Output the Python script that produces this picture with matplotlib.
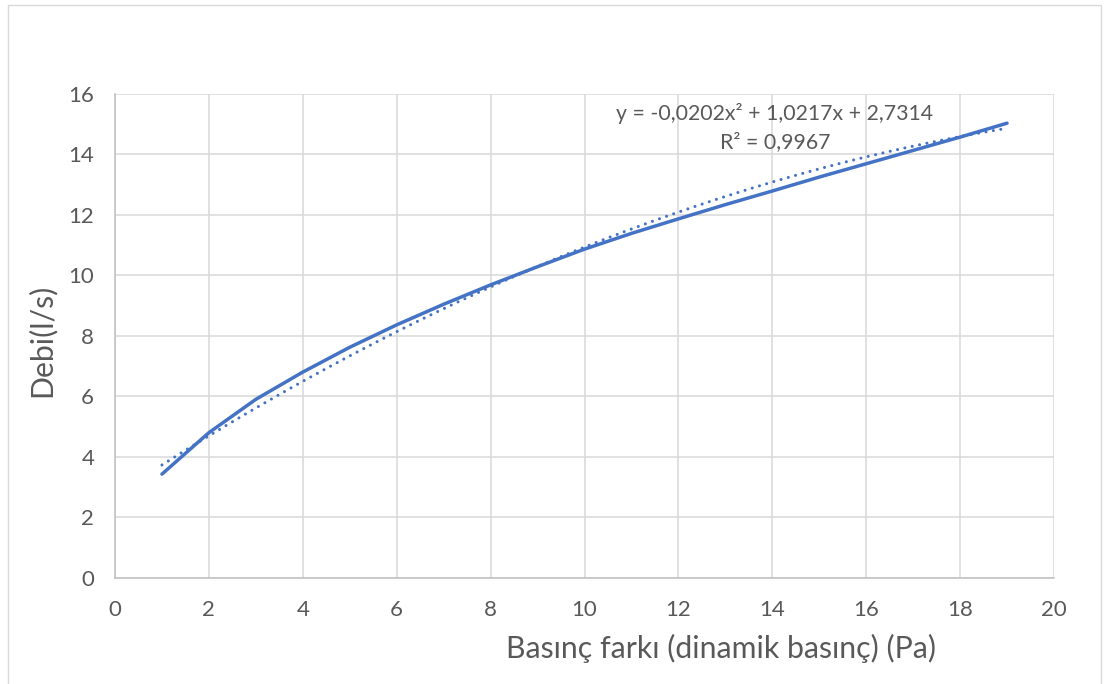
import numpy as np
import matplotlib
matplotlib.use("Agg")
import matplotlib.pyplot as plt
from matplotlib.patches import Rectangle

# Data
pressure_pa = [1, 2, 3, 4, 5, 6, 7, 8, 9, 10, 11, 12, 13, 14, 15, 16, 17, 18, 19]
flow_ls = [3.43, 4.80, 5.90, 6.80, 7.62, 8.36, 9.04, 9.68, 10.28, 10.86,
           11.38, 11.86, 12.33, 12.78, 13.24, 13.68, 14.12, 14.56, 15.02]
# trendline coefficients as printed on the chart (x², x, constant)
trend_coefs = [-0.0202, 1.0217, 2.7314]
x_ticks = [0, 2, 4, 6, 8, 10, 12, 14, 16, 18, 20]
y_ticks = [0, 2, 4, 6, 8, 10, 12, 14, 16]
equation_text = "y = -0,0202x² + 1,0217x + 2,7314"
r2_text = "R² = 0,9967"
x_label = "Basınç farkı (dinamik basınç) (Pa)"
y_label = "Debi(l/s)"

plt.rcParams['font.family'] = ['Lato', 'DejaVu Sans']
TXT = '#595959'
BLUE = '#4472C4'

W, H = 1105, 684
fig = plt.figure(figsize=(W / 100, H / 100), dpi=100)
fig.patch.set_facecolor('white')

# chart border
fig.patches.append(Rectangle((8 / W, -0.05), (1101 - 8) / W, 1.05 - 5 / H,
                             transform=fig.transFigure, fill=False,
                             edgecolor='#D9D9D9', linewidth=1.0))

ax = fig.add_axes([115 / W, (H - 578) / H, (1054 - 115) / W, (578 - 93.5) / H])

ax.set_xlim(0, 20)
ax.set_ylim(0, 16)
ax.set_xticks(x_ticks)
ax.set_yticks(y_ticks)
ax.grid(True, color='#D9D9D9', linewidth=1.1)
ax.set_axisbelow(True)
for s in ['top', 'right']:
    ax.spines[s].set_visible(False)
for s in ['left', 'bottom']:
    ax.spines[s].set_color('#BFBFBF')
    ax.spines[s].set_linewidth(1.1)
ax.tick_params(length=0, labelsize=16, labelcolor=TXT)
ax.tick_params(axis='y', pad=15)
ax.tick_params(axis='x', pad=16)

# data line
ax.plot(pressure_pa, flow_ls, color=BLUE, linewidth=2.5, solid_capstyle='round',
        solid_joinstyle='round', zorder=3)

# polynomial trendline (order 2)
xt = np.linspace(min(pressure_pa), max(pressure_pa), 200)
ax.plot(xt, np.polyval(trend_coefs, xt), color=BLUE, linewidth=2.2,
        linestyle=(0, (0.01, 2.45)), dash_capstyle='round', zorder=4)

ax.text(775 / W, (H - 113) / H, equation_text, transform=fig.transFigure,
        ha='center', va='center', fontsize=15.3, color=TXT)
ax.text(775 / W, (H - 142) / H, r2_text, transform=fig.transFigure,
        ha='center', va='center', fontsize=15.3, color=TXT)

fig.text(721 / W, (H - 648) / H, x_label, ha='center', va='center',
         fontsize=21.8, color=TXT)
fig.text(41 / W, (H - 340) / H, y_label, ha='center', va='center',
         fontsize=21.8, color=TXT, rotation=90)

fig.savefig('out.png', dpi=100, facecolor='white')
